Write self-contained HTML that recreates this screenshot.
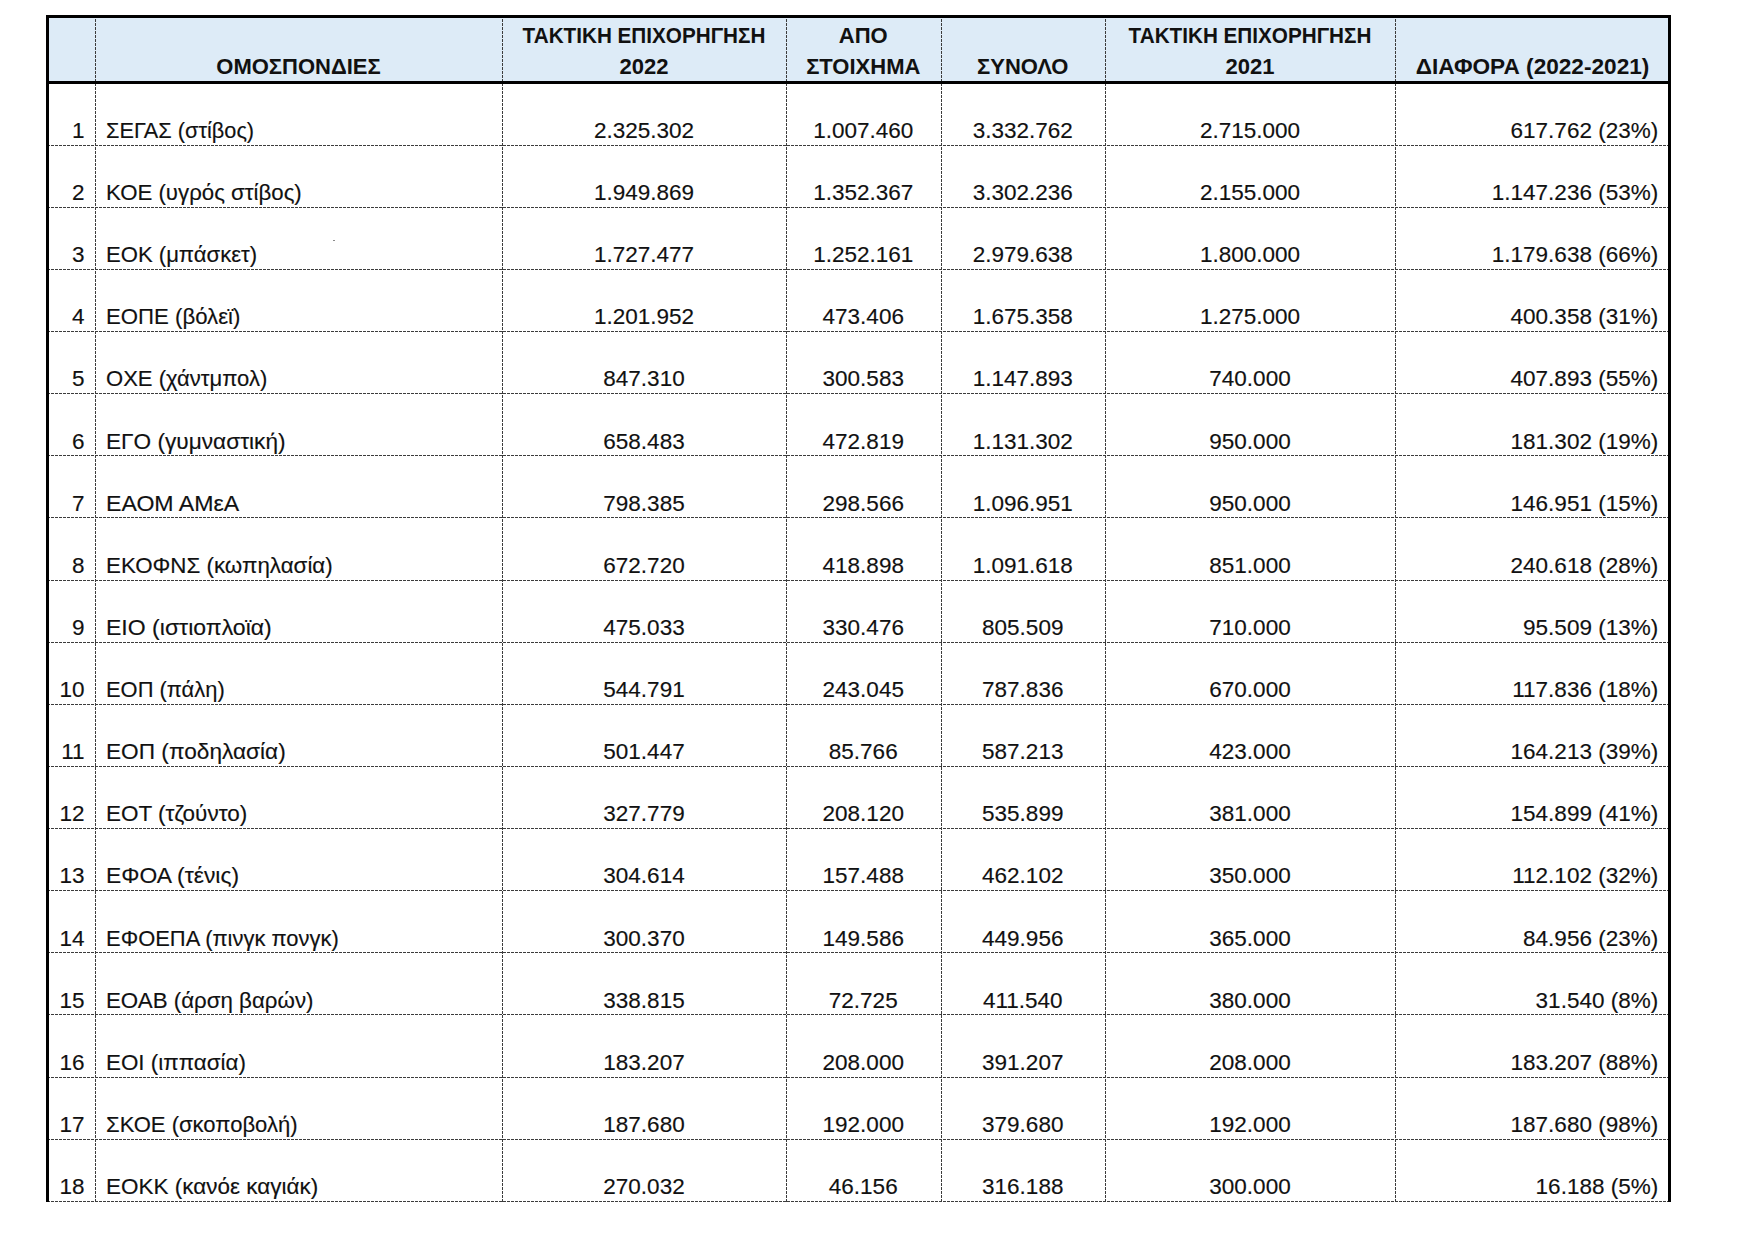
<!DOCTYPE html>
<html><head><meta charset="utf-8"><title>table</title><style>
*{margin:0;padding:0;box-sizing:border-box}
html,body{width:1755px;height:1241px;background:#fff;overflow:hidden}
body{position:relative;font-family:"Liberation Sans",sans-serif;color:#111}
.t{position:absolute;white-space:nowrap;line-height:1;font-size:22.5px;-webkit-text-stroke:0.15px #111}
.h{-webkit-text-stroke:0}
.h{font-weight:bold;font-size:22px}
.c{text-align:center}
.r{text-align:right}
.hd{position:absolute;height:1px;background:repeating-linear-gradient(90deg,#3c3c3c 0 3px,transparent 3px 4px)}
.vd{position:absolute;width:1px;background:repeating-linear-gradient(180deg,#3c3c3c 0 3px,transparent 3px 4px)}
.k{position:absolute;background:#000}
</style></head>
<body>
<div style="position:absolute;left:47px;top:15px;width:1623px;height:67px;background:#DDEBF7"></div>
<div class="vd" style="left:95px;top:15px;height:1186.7px"></div>
<div class="vd" style="left:502px;top:15px;height:1186.7px"></div>
<div class="vd" style="left:786px;top:15px;height:1186.7px"></div>
<div class="vd" style="left:940.5px;top:15px;height:1186.7px"></div>
<div class="vd" style="left:1105px;top:15px;height:1186.7px"></div>
<div class="vd" style="left:1395px;top:15px;height:1186.7px"></div>
<div class="hd" style="left:47px;top:144.7px;width:1623px"></div>
<div class="hd" style="left:47px;top:206.8px;width:1623px"></div>
<div class="hd" style="left:47px;top:268.9px;width:1623px"></div>
<div class="hd" style="left:47px;top:331.1px;width:1623px"></div>
<div class="hd" style="left:47px;top:393.2px;width:1623px"></div>
<div class="hd" style="left:47px;top:455.3px;width:1623px"></div>
<div class="hd" style="left:47px;top:517.4px;width:1623px"></div>
<div class="hd" style="left:47px;top:579.5px;width:1623px"></div>
<div class="hd" style="left:47px;top:641.7px;width:1623px"></div>
<div class="hd" style="left:47px;top:703.8px;width:1623px"></div>
<div class="hd" style="left:47px;top:765.9px;width:1623px"></div>
<div class="hd" style="left:47px;top:828.0px;width:1623px"></div>
<div class="hd" style="left:47px;top:890.1px;width:1623px"></div>
<div class="hd" style="left:47px;top:952.3px;width:1623px"></div>
<div class="hd" style="left:47px;top:1014.4px;width:1623px"></div>
<div class="hd" style="left:47px;top:1076.5px;width:1623px"></div>
<div class="hd" style="left:47px;top:1138.6px;width:1623px"></div>
<div class="hd" style="left:47px;top:1200.7px;width:1623px"></div>
<div style="position:absolute;left:333px;top:240px;width:2px;height:1px;background:#8a8a8a"></div>
<div class="k" style="left:46px;top:15px;width:1625px;height:3px"></div>
<div class="k" style="left:46px;top:80.5px;width:1625px;height:3px"></div>
<div class="k" style="left:46px;top:15px;width:3px;height:1186.7px"></div>
<div class="k" style="left:1668px;top:15px;width:3px;height:1186.7px"></div>
<div class="t h c" style="left:95.0px;width:407.0px;top:55.7px">ΟΜΟΣΠΟΝΔΙΕΣ</div>
<div class="t h c" style="left:502.0px;width:284.0px;top:24.7px;transform:scaleX(0.94)">ΤΑΚΤΙΚΗ ΕΠΙΧΟΡΗΓΗΣΗ</div>
<div class="t h c" style="left:502.0px;width:284.0px;top:55.7px">2022</div>
<div class="t h c" style="left:786.0px;width:154.5px;top:24.7px">ΑΠΟ</div>
<div class="t h c" style="left:786.0px;width:154.5px;top:55.7px">ΣΤΟΙΧΗΜΑ</div>
<div class="t h c" style="left:940.5px;width:164.5px;top:55.7px">ΣΥΝΟΛΟ</div>
<div class="t h c" style="left:1105.0px;width:290.0px;top:24.7px;transform:scaleX(0.94)">ΤΑΚΤΙΚΗ ΕΠΙΧΟΡΗΓΗΣΗ</div>
<div class="t h c" style="left:1105.0px;width:290.0px;top:55.7px">2021</div>
<div class="t h c" style="left:1395.0px;width:275.0px;top:55.7px;transform:scaleX(1.028)">ΔΙΑΦΟΡΑ (2022-2021)</div>
<div class="t r" style="left:0.0px;width:84.5px;top:119.9px">1</div>
<div class="t " style="left:106.0px;width:380.0px;top:119.9px;transform:scaleX(0.9649);transform-origin:0 0">ΣΕΓΑΣ (στίβος)</div>
<div class="t c" style="left:502.0px;width:284.0px;top:119.9px">2.325.302</div>
<div class="t c" style="left:786.0px;width:154.5px;top:119.9px">1.007.460</div>
<div class="t c" style="left:940.5px;width:164.5px;top:119.9px">3.332.762</div>
<div class="t c" style="left:1105.0px;width:290.0px;top:119.9px">2.715.000</div>
<div class="t r" style="left:0.0px;width:1658.2px;top:119.9px">617.762 (23%)</div>
<div class="t r" style="left:0.0px;width:84.5px;top:182.1px">2</div>
<div class="t " style="left:106.0px;width:380.0px;top:182.1px;transform:scaleX(0.9882);transform-origin:0 0">ΚΟΕ (υγρός στίβος)</div>
<div class="t c" style="left:502.0px;width:284.0px;top:182.1px">1.949.869</div>
<div class="t c" style="left:786.0px;width:154.5px;top:182.1px">1.352.367</div>
<div class="t c" style="left:940.5px;width:164.5px;top:182.1px">3.302.236</div>
<div class="t c" style="left:1105.0px;width:290.0px;top:182.1px">2.155.000</div>
<div class="t r" style="left:0.0px;width:1658.2px;top:182.1px">1.147.236 (53%)</div>
<div class="t r" style="left:0.0px;width:84.5px;top:244.2px">3</div>
<div class="t " style="left:106.0px;width:380.0px;top:244.2px;transform:scaleX(0.9815);transform-origin:0 0">ΕΟΚ (μπάσκετ)</div>
<div class="t c" style="left:502.0px;width:284.0px;top:244.2px">1.727.477</div>
<div class="t c" style="left:786.0px;width:154.5px;top:244.2px">1.252.161</div>
<div class="t c" style="left:940.5px;width:164.5px;top:244.2px">2.979.638</div>
<div class="t c" style="left:1105.0px;width:290.0px;top:244.2px">1.800.000</div>
<div class="t r" style="left:0.0px;width:1658.2px;top:244.2px">1.179.638 (66%)</div>
<div class="t r" style="left:0.0px;width:84.5px;top:306.3px">4</div>
<div class="t " style="left:106.0px;width:380.0px;top:306.3px;transform:scaleX(0.9857);transform-origin:0 0">ΕΟΠΕ (βόλεϊ)</div>
<div class="t c" style="left:502.0px;width:284.0px;top:306.3px">1.201.952</div>
<div class="t c" style="left:786.0px;width:154.5px;top:306.3px">473.406</div>
<div class="t c" style="left:940.5px;width:164.5px;top:306.3px">1.675.358</div>
<div class="t c" style="left:1105.0px;width:290.0px;top:306.3px">1.275.000</div>
<div class="t r" style="left:0.0px;width:1658.2px;top:306.3px">400.358 (31%)</div>
<div class="t r" style="left:0.0px;width:84.5px;top:368.4px">5</div>
<div class="t " style="left:106.0px;width:380.0px;top:368.4px;transform:scaleX(0.9796);transform-origin:0 0">ΟΧΕ (χάντμπολ)</div>
<div class="t c" style="left:502.0px;width:284.0px;top:368.4px">847.310</div>
<div class="t c" style="left:786.0px;width:154.5px;top:368.4px">300.583</div>
<div class="t c" style="left:940.5px;width:164.5px;top:368.4px">1.147.893</div>
<div class="t c" style="left:1105.0px;width:290.0px;top:368.4px">740.000</div>
<div class="t r" style="left:0.0px;width:1658.2px;top:368.4px">407.893 (55%)</div>
<div class="t r" style="left:0.0px;width:84.5px;top:430.5px">6</div>
<div class="t " style="left:106.0px;width:380.0px;top:430.5px;transform:scaleX(1.0063);transform-origin:0 0">ΕΓΟ (γυμναστική)</div>
<div class="t c" style="left:502.0px;width:284.0px;top:430.5px">658.483</div>
<div class="t c" style="left:786.0px;width:154.5px;top:430.5px">472.819</div>
<div class="t c" style="left:940.5px;width:164.5px;top:430.5px">1.131.302</div>
<div class="t c" style="left:1105.0px;width:290.0px;top:430.5px">950.000</div>
<div class="t r" style="left:0.0px;width:1658.2px;top:430.5px">181.302 (19%)</div>
<div class="t r" style="left:0.0px;width:84.5px;top:492.7px">7</div>
<div class="t " style="left:106.0px;width:380.0px;top:492.7px;transform:scaleX(1.0283);transform-origin:0 0">ΕΑΟΜ ΑΜεΑ</div>
<div class="t c" style="left:502.0px;width:284.0px;top:492.7px">798.385</div>
<div class="t c" style="left:786.0px;width:154.5px;top:492.7px">298.566</div>
<div class="t c" style="left:940.5px;width:164.5px;top:492.7px">1.096.951</div>
<div class="t c" style="left:1105.0px;width:290.0px;top:492.7px">950.000</div>
<div class="t r" style="left:0.0px;width:1658.2px;top:492.7px">146.951 (15%)</div>
<div class="t r" style="left:0.0px;width:84.5px;top:554.8px">8</div>
<div class="t " style="left:106.0px;width:380.0px;top:554.8px;transform:scaleX(0.9933);transform-origin:0 0">ΕΚΟΦΝΣ (κωπηλασία)</div>
<div class="t c" style="left:502.0px;width:284.0px;top:554.8px">672.720</div>
<div class="t c" style="left:786.0px;width:154.5px;top:554.8px">418.898</div>
<div class="t c" style="left:940.5px;width:164.5px;top:554.8px">1.091.618</div>
<div class="t c" style="left:1105.0px;width:290.0px;top:554.8px">851.000</div>
<div class="t r" style="left:0.0px;width:1658.2px;top:554.8px">240.618 (28%)</div>
<div class="t r" style="left:0.0px;width:84.5px;top:616.9px">9</div>
<div class="t " style="left:106.0px;width:380.0px;top:616.9px;transform:scaleX(1.0239);transform-origin:0 0">ΕΙΟ (ιστιοπλοϊα)</div>
<div class="t c" style="left:502.0px;width:284.0px;top:616.9px">475.033</div>
<div class="t c" style="left:786.0px;width:154.5px;top:616.9px">330.476</div>
<div class="t c" style="left:940.5px;width:164.5px;top:616.9px">805.509</div>
<div class="t c" style="left:1105.0px;width:290.0px;top:616.9px">710.000</div>
<div class="t r" style="left:0.0px;width:1658.2px;top:616.9px">95.509 (13%)</div>
<div class="t r" style="left:0.0px;width:84.5px;top:679.0px">10</div>
<div class="t " style="left:106.0px;width:380.0px;top:679.0px;transform:scaleX(0.9731);transform-origin:0 0">ΕΟΠ (πάλη)</div>
<div class="t c" style="left:502.0px;width:284.0px;top:679.0px">544.791</div>
<div class="t c" style="left:786.0px;width:154.5px;top:679.0px">243.045</div>
<div class="t c" style="left:940.5px;width:164.5px;top:679.0px">787.836</div>
<div class="t c" style="left:1105.0px;width:290.0px;top:679.0px">670.000</div>
<div class="t r" style="left:0.0px;width:1658.2px;top:679.0px">117.836 (18%)</div>
<div class="t r" style="left:0.0px;width:84.5px;top:741.1px">11</div>
<div class="t " style="left:106.0px;width:380.0px;top:741.1px;transform:scaleX(1.0063);transform-origin:0 0">ΕΟΠ (ποδηλασία)</div>
<div class="t c" style="left:502.0px;width:284.0px;top:741.1px">501.447</div>
<div class="t c" style="left:786.0px;width:154.5px;top:741.1px">85.766</div>
<div class="t c" style="left:940.5px;width:164.5px;top:741.1px">587.213</div>
<div class="t c" style="left:1105.0px;width:290.0px;top:741.1px">423.000</div>
<div class="t r" style="left:0.0px;width:1658.2px;top:741.1px">164.213 (39%)</div>
<div class="t r" style="left:0.0px;width:84.5px;top:803.3px">12</div>
<div class="t " style="left:106.0px;width:380.0px;top:803.3px;transform:scaleX(1.0);transform-origin:0 0">ΕΟΤ (τζούντο)</div>
<div class="t c" style="left:502.0px;width:284.0px;top:803.3px">327.779</div>
<div class="t c" style="left:786.0px;width:154.5px;top:803.3px">208.120</div>
<div class="t c" style="left:940.5px;width:164.5px;top:803.3px">535.899</div>
<div class="t c" style="left:1105.0px;width:290.0px;top:803.3px">381.000</div>
<div class="t r" style="left:0.0px;width:1658.2px;top:803.3px">154.899 (41%)</div>
<div class="t r" style="left:0.0px;width:84.5px;top:865.4px">13</div>
<div class="t " style="left:106.0px;width:380.0px;top:865.4px;transform:scaleX(1.0148);transform-origin:0 0">ΕΦΟΑ (τένις)</div>
<div class="t c" style="left:502.0px;width:284.0px;top:865.4px">304.614</div>
<div class="t c" style="left:786.0px;width:154.5px;top:865.4px">157.488</div>
<div class="t c" style="left:940.5px;width:164.5px;top:865.4px">462.102</div>
<div class="t c" style="left:1105.0px;width:290.0px;top:865.4px">350.000</div>
<div class="t r" style="left:0.0px;width:1658.2px;top:865.4px">112.102 (32%)</div>
<div class="t r" style="left:0.0px;width:84.5px;top:927.5px">14</div>
<div class="t " style="left:106.0px;width:380.0px;top:927.5px;transform:scaleX(0.9749);transform-origin:0 0">ΕΦΟΕΠΑ (πινγκ πονγκ)</div>
<div class="t c" style="left:502.0px;width:284.0px;top:927.5px">300.370</div>
<div class="t c" style="left:786.0px;width:154.5px;top:927.5px">149.586</div>
<div class="t c" style="left:940.5px;width:164.5px;top:927.5px">449.956</div>
<div class="t c" style="left:1105.0px;width:290.0px;top:927.5px">365.000</div>
<div class="t r" style="left:0.0px;width:1658.2px;top:927.5px">84.956 (23%)</div>
<div class="t r" style="left:0.0px;width:84.5px;top:989.6px">15</div>
<div class="t " style="left:106.0px;width:380.0px;top:989.6px;transform:scaleX(0.9908);transform-origin:0 0">ΕΟΑΒ (άρση βαρών)</div>
<div class="t c" style="left:502.0px;width:284.0px;top:989.6px">338.815</div>
<div class="t c" style="left:786.0px;width:154.5px;top:989.6px">72.725</div>
<div class="t c" style="left:940.5px;width:164.5px;top:989.6px">411.540</div>
<div class="t c" style="left:1105.0px;width:290.0px;top:989.6px">380.000</div>
<div class="t r" style="left:0.0px;width:1658.2px;top:989.6px">31.540 (8%)</div>
<div class="t r" style="left:0.0px;width:84.5px;top:1051.8px">16</div>
<div class="t " style="left:106.0px;width:380.0px;top:1051.8px;transform:scaleX(0.9949);transform-origin:0 0">ΕΟΙ (ιππασία)</div>
<div class="t c" style="left:502.0px;width:284.0px;top:1051.8px">183.207</div>
<div class="t c" style="left:786.0px;width:154.5px;top:1051.8px">208.000</div>
<div class="t c" style="left:940.5px;width:164.5px;top:1051.8px">391.207</div>
<div class="t c" style="left:1105.0px;width:290.0px;top:1051.8px">208.000</div>
<div class="t r" style="left:0.0px;width:1658.2px;top:1051.8px">183.207 (88%)</div>
<div class="t r" style="left:0.0px;width:84.5px;top:1113.9px">17</div>
<div class="t " style="left:106.0px;width:380.0px;top:1113.9px;transform:scaleX(0.9798);transform-origin:0 0">ΣΚΟΕ (σκοποβολή)</div>
<div class="t c" style="left:502.0px;width:284.0px;top:1113.9px">187.680</div>
<div class="t c" style="left:786.0px;width:154.5px;top:1113.9px">192.000</div>
<div class="t c" style="left:940.5px;width:164.5px;top:1113.9px">379.680</div>
<div class="t c" style="left:1105.0px;width:290.0px;top:1113.9px">192.000</div>
<div class="t r" style="left:0.0px;width:1658.2px;top:1113.9px">187.680 (98%)</div>
<div class="t r" style="left:0.0px;width:84.5px;top:1176.0px">18</div>
<div class="t " style="left:106.0px;width:380.0px;top:1176.0px;transform:scaleX(0.9995);transform-origin:0 0">ΕΟΚΚ (κανόε καγιάκ)</div>
<div class="t c" style="left:502.0px;width:284.0px;top:1176.0px">270.032</div>
<div class="t c" style="left:786.0px;width:154.5px;top:1176.0px">46.156</div>
<div class="t c" style="left:940.5px;width:164.5px;top:1176.0px">316.188</div>
<div class="t c" style="left:1105.0px;width:290.0px;top:1176.0px">300.000</div>
<div class="t r" style="left:0.0px;width:1658.2px;top:1176.0px">16.188 (5%)</div>
</body></html>
